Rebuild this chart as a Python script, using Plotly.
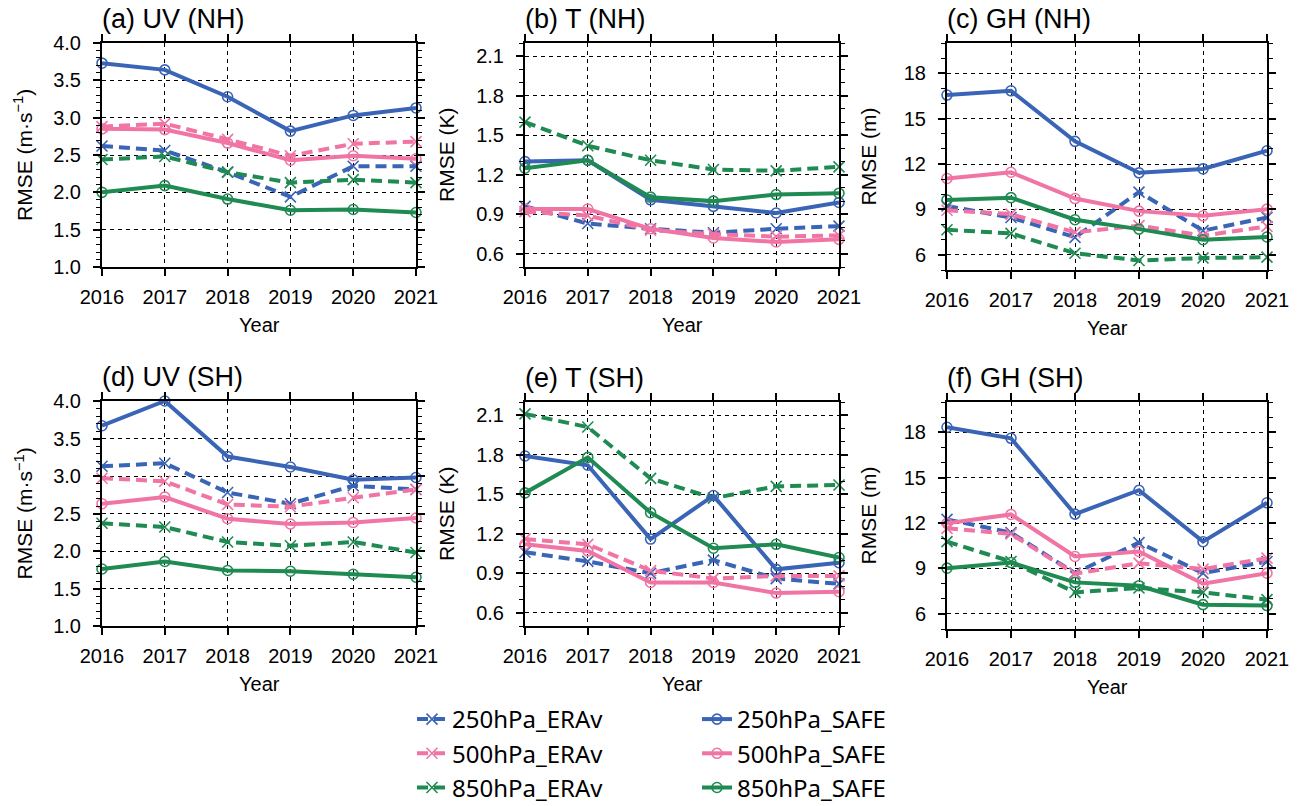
import plotly.graph_objects as go
from plotly.subplots import make_subplots

years = [2016, 2017, 2018, 2019, 2020, 2021]

# (a) UV (NH)
a_250_erav = [2.62, 2.56, 2.27, 1.94, 2.35, 2.35]
a_500_erav = [2.88, 2.92, 2.71, 2.49, 2.65, 2.68]
a_850_erav = [2.44, 2.48, 2.27, 2.13, 2.17, 2.13]
a_250_safe = [3.73, 3.64, 3.28, 2.82, 3.03, 3.13]
a_500_safe = [2.85, 2.84, 2.66, 2.43, 2.49, 2.45]
a_850_safe = [2.00, 2.09, 1.91, 1.76, 1.77, 1.73]
# (b) T (NH)
b_250_erav = [0.96, 0.83, 0.79, 0.76, 0.79, 0.81]
b_500_erav = [0.92, 0.89, 0.78, 0.75, 0.73, 0.74]
b_850_erav = [1.60, 1.42, 1.31, 1.24, 1.23, 1.26]
b_250_safe = [1.30, 1.31, 1.01, 0.96, 0.91, 0.99]
b_500_safe = [0.94, 0.94, 0.79, 0.72, 0.69, 0.71]
b_850_safe = [1.25, 1.31, 1.03, 1.00, 1.05, 1.06]
# (c) GH (NH)
c_250_erav = [9.23, 8.47, 7.16, 10.15, 7.60, 8.47]
c_500_erav = [8.95, 8.69, 7.49, 7.93, 7.27, 7.88]
c_850_erav = [7.66, 7.42, 6.11, 5.63, 5.79, 5.85]
c_250_safe = [16.56, 16.84, 13.50, 11.42, 11.68, 12.88]
c_500_safe = [11.05, 11.46, 9.72, 8.89, 8.58, 9.02]
c_850_safe = [9.63, 9.78, 8.32, 7.70, 7.00, 7.18]
# (d) UV (SH)
d_250_erav = [3.13, 3.17, 2.78, 2.63, 2.87, 2.82]
d_500_erav = [2.97, 2.93, 2.62, 2.59, 2.71, 2.82]
d_850_erav = [2.37, 2.32, 2.12, 2.07, 2.12, 1.98]
d_250_safe = [3.67, 4.00, 3.26, 3.12, 2.95, 2.98]
d_500_safe = [2.63, 2.72, 2.43, 2.36, 2.38, 2.44]
d_850_safe = [1.76, 1.86, 1.74, 1.73, 1.69, 1.65]
# (e) T (SH)
e_250_erav = [1.06, 0.99, 0.90, 1.00, 0.86, 0.82]
e_500_erav = [1.16, 1.12, 0.92, 0.86, 0.88, 0.88]
e_850_erav = [2.11, 2.01, 1.62, 1.47, 1.56, 1.57]
e_250_safe = [1.79, 1.72, 1.16, 1.49, 0.93, 0.98]
e_500_safe = [1.12, 1.07, 0.83, 0.83, 0.75, 0.76]
e_850_safe = [1.51, 1.78, 1.36, 1.09, 1.12, 1.02]
# (f) GH (SH)
f_250_erav = [12.24, 11.37, 8.69, 10.71, 8.69, 9.46]
f_500_erav = [11.65, 11.28, 8.65, 9.35, 8.96, 9.68]
f_850_erav = [10.77, 9.46, 7.42, 7.71, 7.42, 6.94]
f_250_safe = [18.33, 17.60, 12.59, 14.17, 10.77, 13.34]
f_500_safe = [11.98, 12.57, 9.79, 10.12, 7.99, 8.69]
f_850_safe = [9.02, 9.39, 8.08, 7.86, 6.61, 6.55]

panel_titles = ["(a) UV (NH)", "(b) T (NH)", "(c) GH (NH)",
                "(d) UV (SH)", "(e) T (SH)", "(f) GH (SH)"]
y_titles = ["RMSE (m·s<sup>−1</sup>)", "RMSE (K)", "RMSE (m)"]
series_names = ["250hPa_ERAv", "500hPa_ERAv", "850hPa_ERAv",
                "250hPa_SAFE", "500hPa_SAFE", "850hPa_SAFE"]

panels = [
    [a_250_erav, a_500_erav, a_850_erav, a_250_safe, a_500_safe, a_850_safe],
    [b_250_erav, b_500_erav, b_850_erav, b_250_safe, b_500_safe, b_850_safe],
    [c_250_erav, c_500_erav, c_850_erav, c_250_safe, c_500_safe, c_850_safe],
    [d_250_erav, d_500_erav, d_850_erav, d_250_safe, d_500_safe, d_850_safe],
    [e_250_erav, e_500_erav, e_850_erav, e_250_safe, e_500_safe, e_850_safe],
    [f_250_erav, f_500_erav, f_850_erav, f_250_safe, f_500_safe, f_850_safe],
]

BLUE = "#3a64b6"
PINK = "#f074a4"
GREEN = "#1f8a52"
colors = [BLUE, PINK, GREEN, BLUE, PINK, GREEN]

W, H = 1301, 806
FONT = "Liberation Sans, Arial, Helvetica, sans-serif"

# pixel boxes (left, right, top, bottom)
boxes = [
    (102, 416, 43, 267), (525, 839, 43, 267), (947, 1267, 43, 270),
    (102, 416, 401, 626), (525, 839, 402, 626), (947, 1267, 402, 629),
]

fig = make_subplots(rows=2, cols=3)

for p, data in enumerate(panels):
    r, c = p // 3 + 1, p % 3 + 1
    for s in range(6):
        erav = s < 3
        fig.add_trace(go.Scatter(
            x=years, y=data[s], name=series_names[s], mode="lines+markers",
            line=dict(color=colors[s], width=4, dash="11px,6px" if erav else "solid"),
            marker=dict(symbol="x-thin-open" if erav else "circle-open",
                        size=11 if erav else 10, color=colors[s],
                        line=dict(color=colors[s], width=1.6)),
            cliponaxis=False,
            showlegend=(p == 0),
            legend="legend" if erav else "legend2",
        ), row=r, col=c)

yaxis_cfg = [
    dict(range=[1.0, 4.0], tick0=1.0, dtick=0.5, tickformat=".1f", minor_dtick=0.1),
    dict(range=[0.5, 2.2], tick0=0.6, dtick=0.3, tickformat=".1f", minor_dtick=0.1),
    dict(range=[5, 20], tick0=0, dtick=3, tickformat="d", minor_dtick=1),
]

annotations = []
for p in range(6):
    l, rr, t, b = boxes[p]
    ax = "" if p == 0 else str(p + 1)
    xd = [l / W, rr / W]
    yd = [1 - b / H, 1 - t / H]
    ycfg = yaxis_cfg[p % 3]
    fig.layout["xaxis" + ax].update(
        domain=xd, range=[2016, 2021], tickvals=years, ticktext=[str(y) for y in years],
        automargin=False,
        showline=True, linewidth=2, linecolor="black", mirror="allticks",
        ticks="outside", ticklen=7, tickwidth=1.5, tickcolor="black",
        showgrid=True, gridcolor="black", gridwidth=1, griddash="4px,4px",
        zeroline=False, ticklabelstandoff=4,
        tickfont=dict(family=FONT, size=20, color="black"),
    )
    fig.layout["yaxis" + ax].update(
        domain=yd, range=ycfg["range"], tick0=ycfg["tick0"], dtick=ycfg["dtick"],
        tickformat=ycfg["tickformat"], automargin=False,
        showline=True, linewidth=2, linecolor="black", mirror="allticks",
        ticks="outside", ticklen=7, tickwidth=1.5, tickcolor="black",
        showgrid=True, gridcolor="black", gridwidth=1, griddash="4px,4px",
        zeroline=False, ticklabelstandoff=8,
        tickfont=dict(family=FONT, size=20, color="black"),
        minor=dict(dtick=ycfg["minor_dtick"], ticks="outside", ticklen=4,
                   tickwidth=1, tickcolor="black", showgrid=False),
    )
    annotations.append(dict(
        text=panel_titles[p], x=(l - 2) / W, y=1 - (t - 24) / H,
        xref="paper", yref="paper", xanchor="left", yanchor="middle",
        showarrow=False, font=dict(family=FONT, size=27, color="black")))
    annotations.append(dict(
        text=y_titles[p % 3], x=(l - 79) / W, y=1 - ((t + b) / 2) / H,
        xref="paper", yref="paper", xanchor="center", yanchor="middle",
        textangle=-90, showarrow=False,
        font=dict(family=FONT, size=21, color="black")))
    annotations.append(dict(
        text="Year", x=((l + rr) / 2) / W, y=1 - (b + 58) / H,
        xref="paper", yref="paper", xanchor="center", yanchor="middle",
        showarrow=False, font=dict(family=FONT, size=20, color="black")))

legend_common = dict(
    orientation="v", xref="paper", yref="paper", xanchor="left", yanchor="top",
    bgcolor="rgba(0,0,0,0)", borderwidth=0, itemwidth=30,
    font=dict(family="Noto Sans, sans-serif", size=24, color="black"),
    tracegroupgap=0, itemclick=False, itemdoubleclick=False,
)

fig.update_layout(
    width=W, height=H, margin=dict(l=0, r=0, t=0, b=0, autoexpand=False),
    paper_bgcolor="white", plot_bgcolor="white",
    annotations=annotations,
    legend=dict(x=412 / W, y=1 - 697 / H, **legend_common),
    legend2=dict(x=697 / W, y=1 - 697 / H, **legend_common),
)

fig.write_html("out.html")
